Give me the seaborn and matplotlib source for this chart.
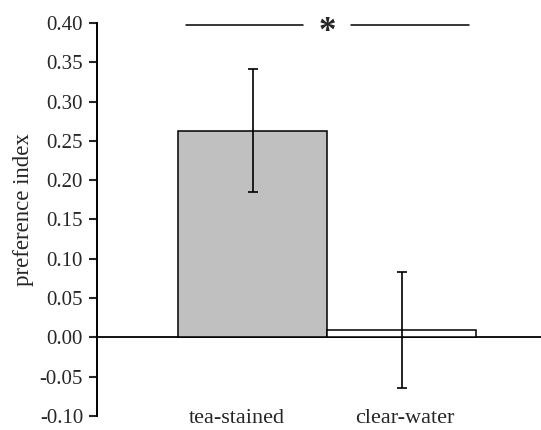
import numpy as np
import pandas as pd
import matplotlib
matplotlib.use("Agg")
import matplotlib.pyplot as plt
import matplotlib.transforms as mtransforms
import seaborn as sns

# =========================
# Data
# =========================

categories = ["tea-stained", "clear-water"]
pref_index = [0.263, 0.010]
err_low = [0.185, -0.065]
err_high = [0.342, 0.083]
bar_colors = ["#c0c0c0", "#ffffff"]
yticks = np.arange(-0.10, 0.401, 0.05)

df = pd.DataFrame({"group": categories, "pref": pref_index})

# =========================
# Style
# =========================

sns.set_style("white")
plt.rcParams["font.family"] = ["Liberation Serif", "DejaVu Serif"]

fig = plt.figure(figsize=(5.41, 4.30), dpi=100)
ax = fig.add_axes([0.1793, 0.0326, 0.8207, 0.9139])

sns.barplot(data=df, x="group", y="pref", hue="group",
            palette=bar_colors, width=1.0, edgecolor="black",
            linewidth=1.1, legend=False, errorbar=None, ax=ax)

# asymmetric error bars
vals = np.array(pref_index)
yerr = np.vstack([vals - np.array(err_low), np.array(err_high) - vals])
ax.errorbar(np.arange(len(categories)), vals, yerr=yerr, fmt="none",
            ecolor="black", elinewidth=1.2, capsize=3.5, capthick=1.2)

# zero line instead of bottom spine
ax.axhline(0, color="black", lw=1.3, zorder=0.5)

# significance bar
xpos = np.arange(len(categories))
mid = xpos.mean()
sig_y = 0.40
ax.plot([xpos[0] - 0.45, mid - 0.16], [sig_y - 0.002, sig_y - 0.002], color="black", lw=1.1, clip_on=False)
ax.plot([mid + 0.16, xpos[-1] + 0.45], [sig_y - 0.002, sig_y - 0.002], color="black", lw=1.1, clip_on=False)
ax.annotate("*", xy=(mid, sig_y), xytext=(0, -7), textcoords="offset points",
            ha="center", va="center", fontsize=25, fontweight="bold",
            annotation_clip=False)

# =========================
# Axes
# =========================

ax.set_xlim(-1.044, 1.936)
ax.set_ylim(-0.10, 0.40)
ax.set_yticks(yticks)
ax.set_yticklabels([f"{t:.2f}" for t in yticks], fontsize=15)
ax.tick_params(axis="y", direction="out", length=6, width=1.5, left=True, pad=4)
ax.tick_params(axis="x", length=0, pad=-5, labelsize=16)
ax.set_xlabel("")
ax.set_ylabel("preference index", fontsize=16.5, labelpad=4, y=0.525)

# category labels sit a little off-centre in the original
shifts = [-16, 3]
for lab, dx in zip(ax.get_xticklabels(), shifts):
    off = mtransforms.ScaledTranslation(dx / 100, 0, fig.dpi_scale_trans)
    lab.set_transform(lab.get_transform() + off)

for s in ["top", "right", "bottom"]:
    ax.spines[s].set_visible(False)
ax.spines["left"].set_linewidth(1.4)
ax.spines["left"].set_color("black")

fig.savefig("out.png", dpi=100)
